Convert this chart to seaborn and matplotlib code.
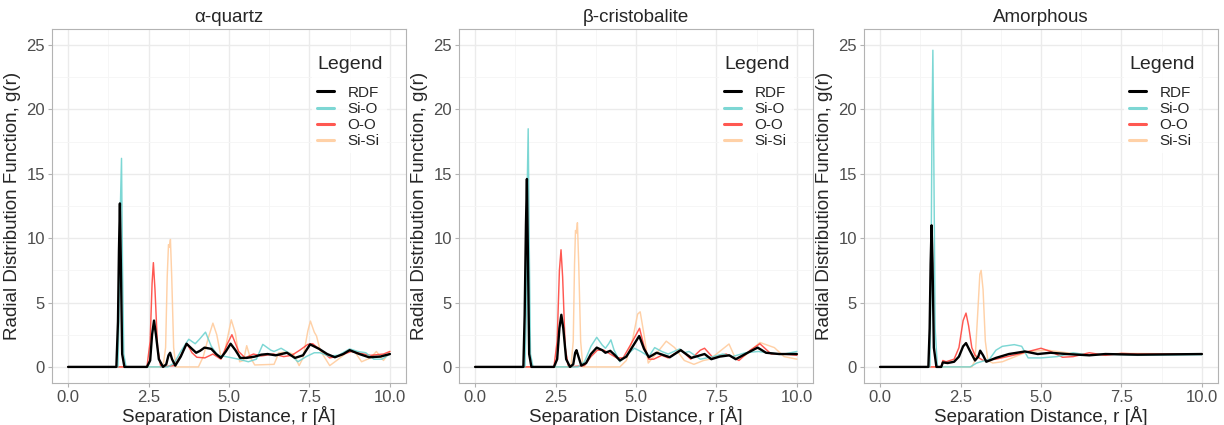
import numpy as np
import pandas as pd
import matplotlib
matplotlib.use("Agg")
import matplotlib.pyplot as plt
import seaborn as sns

# ---------------- data (r [Å], g(r)) ----------------
panel_titles = ["α-quartz", "β-cristobalite", "Amorphous"]
series_names = ["RDF", "Si-O", "O-O", "Si-Si"]

qz_rdf = [(0, 0), (1.50, 0), (1.55, 3.5), (1.58, 9), (1.61, 12.7), (1.64, 8), (1.68, 1), (1.75, 0),
          (2.45, 0), (2.55, 0.5), (2.61, 2.5), (2.67, 3.6), (2.73, 2.5), (2.82, 0.6), (2.95, 0),
          (3.05, 0.2), (3.12, 0.9), (3.17, 1.1), (3.23, 0.6), (3.33, 0.1), (3.5, 0.8), (3.68, 1.8),
          (3.85, 1.4), (3.98, 1.1), (4.1, 1.25), (4.24, 1.5), (4.45, 1.4), (4.6, 1.0), (4.75, 0.7),
          (4.9, 1.2), (5.05, 1.8), (5.2, 1.3), (5.35, 0.7), (5.55, 0.7), (5.8, 0.8), (6.0, 0.95),
          (6.2, 1.0), (6.45, 0.9), (6.8, 1.1), (7.05, 0.7), (7.3, 0.9), (7.52, 1.75), (7.8, 1.4),
          (8.05, 1.0), (8.29, 0.75), (8.55, 1.0), (8.75, 1.3), (9.05, 1.0), (9.35, 0.75), (9.7, 0.8),
          (10.0, 1.0)]
qz_sio = [(0, 0), (1.55, 0), (1.58, 3.5), (1.62, 12), (1.66, 16.2), (1.69, 8), (1.73, 1), (1.8, 0),
          (3.1, 0), (3.3, 0.3), (3.5, 1.2), (3.75, 2.15), (3.95, 1.8), (4.1, 2.2), (4.27, 2.7),
          (4.45, 1.6), (4.65, 0.9), (4.9, 0.8), (5.1, 0.7), (5.3, 0.6), (5.6, 0.4), (5.85, 0.6),
          (6.05, 1.75), (6.3, 1.3), (6.4, 1.2), (6.62, 1.45), (6.85, 1.1), (7.14, 0.4), (7.4, 0.8),
          (7.65, 1.1), (7.83, 1.1), (8.1, 0.85), (8.4, 0.9), (8.75, 1.4), (9.0, 1.2), (9.25, 1.1),
          (9.5, 0.6), (9.75, 0.6), (10.0, 1.0)]
qz_oo = [(0, 0), (2.45, 0), (2.55, 2.0), (2.61, 6.5), (2.65, 8.1), (2.7, 6), (2.78, 1.5), (2.88, 0),
         (3.3, 0.1), (3.5, 0.9), (3.7, 1.8), (3.85, 1.1), (4.0, 0.75), (4.25, 0.7), (4.5, 1.0),
         (4.75, 0.6), (4.95, 1.8), (5.09, 2.5), (5.3, 1.2), (5.5, 0.7), (5.76, 1.0), (6.0, 0.85),
         (6.38, 1.0), (6.7, 0.8), (6.95, 0.9), (7.2, 1.3), (7.45, 1.75), (7.6, 1.8), (7.85, 1.3),
         (8.13, 0.7), (8.4, 0.85), (8.8, 1.2), (9.1, 1.05), (9.4, 0.9), (9.8, 1.0), (10.0, 1.2)]
qz_sisi = [(0, 0), (2.95, 0), (3.03, 1.5), (3.08, 7), (3.12, 9.5), (3.15, 9.3), (3.18, 9.9), (3.22, 7),
           (3.28, 1.5), (3.35, 0), (4.05, 0), (4.2, 0.8), (4.35, 2.2), (4.5, 3.4), (4.62, 2.5),
           (4.75, 0.8), (4.85, 1.0), (5.07, 3.66), (5.2, 2.6), (5.33, 0.4), (5.45, 0.5), (5.55, 1.65),
           (5.65, 0.8), (5.8, 0.15), (6.4, 0.2), (6.55, 1.1), (6.8, 1.15), (7.0, 1.0), (7.18, 0.1),
           (7.3, 0.7), (7.45, 2.8), (7.53, 3.56), (7.65, 2.7), (7.72, 2.4), (7.83, 1.3), (8.13, 0.1),
           (8.4, 0.6), (8.7, 1.2), (8.9, 1.2), (9.12, 0.4), (9.4, 0.7), (9.58, 1.2), (9.8, 0.5),
           (10.0, 1.2)]

cr_rdf = [(0, 0), (1.5, 0), (1.54, 4), (1.58, 11), (1.61, 14.6), (1.64, 9), (1.68, 1), (1.75, 0),
          (2.45, 0), (2.55, 0.6), (2.62, 3.0), (2.68, 4.05), (2.74, 3.0), (2.83, 0.6), (2.95, 0),
          (3.05, 0.2), (3.11, 1.1), (3.15, 1.3), (3.2, 0.9), (3.3, 0.1), (3.45, 0.3), (3.6, 1.0),
          (3.78, 1.5), (3.95, 1.3), (4.05, 1.1), (4.2, 1.25), (4.35, 0.9), (4.5, 0.5), (4.7, 0.8),
          (4.9, 1.6), (5.1, 2.4), (5.25, 1.4), (5.4, 0.75), (5.64, 1.1), (6.05, 0.75), (6.39, 1.3),
          (6.72, 0.7), (7.13, 1.0), (7.34, 0.6), (7.6, 0.8), (7.9, 0.9), (8.1, 0.6), (8.47, 1.1),
          (8.78, 1.5), (9.04, 1.1), (9.45, 1.0), (10.0, 1.0)]
cr_sio = [(0, 0), (1.55, 0), (1.59, 4), (1.62, 14), (1.65, 18.5), (1.68, 10), (1.72, 1), (1.8, 0),
          (3.2, 0), (3.4, 0.4), (3.6, 1.6), (3.78, 2.3), (3.95, 1.7), (4.05, 1.45), (4.15, 1.8),
          (4.22, 2.1), (4.32, 1.3), (4.5, 0.4), (4.7, 0.9), (4.95, 1.45), (5.15, 1.2), (5.4, 0.8),
          (5.58, 1.5), (5.8, 1.2), (6.0, 1.0), (6.36, 1.4), (6.5, 1.1), (6.65, 1.2), (7.0, 0.6),
          (7.4, 0.8), (7.7, 1.0), (8.0, 0.8), (8.4, 1.1), (8.8, 1.2), (9.2, 1.05), (9.6, 1.0),
          (10.0, 1.2)]
cr_oo = [(0, 0), (2.45, 0), (2.55, 2.0), (2.62, 7.5), (2.67, 9.1), (2.72, 7), (2.8, 1.5), (2.9, 0),
         (3.4, 0.1), (3.6, 0.8), (3.8, 1.3), (4.0, 1.3), (4.2, 1.0), (4.4, 0.7), (4.6, 0.7),
         (4.85, 1.8), (5.11, 3.0), (5.25, 1.6), (5.4, 0.6), (5.55, 0.6), (5.8, 0.9), (6.0, 0.7),
         (6.39, 1.35), (6.7, 0.6), (7.0, 1.3), (7.13, 1.45), (7.4, 0.7), (7.8, 1.0), (8.2, 0.5),
         (8.55, 1.3), (8.85, 1.8), (9.2, 1.0), (9.6, 1.0), (10.0, 0.9)]
cr_sisi = [(0, 0), (2.98, 0), (3.05, 2), (3.09, 8), (3.12, 10.6), (3.15, 10.4), (3.18, 11.2),
           (3.22, 8), (3.28, 2), (3.35, 0), (4.5, 0), (4.7, 0.5), (4.9, 2.2), (5.05, 4.1),
           (5.13, 4.28), (5.25, 2.5), (5.38, 0.3), (5.55, 0.8), (5.75, 1.4), (5.94, 2.0), (6.2, 1.5),
           (6.5, 0.5), (6.8, 0.2), (7.1, 0.5), (7.3, 0.6), (7.6, 1.2), (7.89, 1.78), (8.1, 0.6),
           (8.4, 0.9), (8.85, 1.9), (9.3, 1.5), (9.6, 0.8), (10.0, 0.6)]

am_rdf = [(0, 0), (1.5, 0), (1.54, 3), (1.57, 8), (1.6, 11.0), (1.63, 8), (1.67, 1.5), (1.75, 0),
          (1.9, 0), (1.95, 0.35), (2.1, 0.3), (2.3, 0.4), (2.45, 0.8), (2.58, 1.6), (2.67, 1.85),
          (2.78, 1.3), (2.95, 0.5), (3.05, 0.8), (3.11, 1.26), (3.2, 0.9), (3.3, 0.4), (3.6, 0.7),
          (4.0, 1.0), (4.5, 1.2), (4.9, 1.0), (5.3, 1.1), (5.8, 1.0), (6.5, 0.9), (7.0, 1.0),
          (8.0, 0.95), (10.0, 1.0)]
am_sio = [(0, 0), (1.55, 0), (1.58, 6), (1.61, 18), (1.64, 24.6), (1.67, 16), (1.71, 3), (1.78, 0),
          (2.8, 0), (3.0, 0.3), (3.4, 0.6), (3.6, 1.3), (3.8, 1.6), (4.17, 1.73), (4.4, 1.6),
          (4.6, 0.7), (5.0, 0.7), (5.5, 0.8), (6.0, 1.1), (6.5, 0.9), (7.0, 1.0), (8.0, 0.9),
          (10.0, 0.95)]
am_oo = [(0, 0), (1.9, 0), (1.95, 0.5), (2.05, 0.4), (2.3, 0.6), (2.45, 1.5), (2.58, 3.6),
         (2.67, 4.18), (2.75, 3.2), (2.85, 1.5), (2.95, 0.9), (3.2, 0.5), (3.6, 0.6), (4.3, 1.0),
         (5.0, 1.45), (5.3, 1.2), (5.67, 0.75), (6.0, 0.8), (6.5, 1.1), (7.0, 0.9), (7.5, 1.05),
         (8.0, 1.0), (10.0, 1.0)]
am_sisi = [(0, 0), (2.85, 0), (2.95, 0.5), (3.03, 4), (3.1, 7.2), (3.14, 7.5), (3.2, 6), (3.27, 2),
           (3.35, 0.5), (3.5, 0.3), (3.8, 0.4), (4.2, 0.8), (4.6, 1.2), (5.2, 1.3), (5.8, 1.1),
           (6.5, 0.9), (7.5, 1.05), (10.0, 1.0)]

x_ticks = [0.0, 2.5, 5.0, 7.5, 10.0]
x_tick_labels = ["0.0", "2.5", "5.0", "7.5", "10.0"]
y_ticks = [0, 5, 10, 15, 20, 25]

# ---------------- styling ----------------
sns.set_theme(style="white")
plt.rcParams["font.family"] = ["Liberation Sans", "DejaVu Sans"]

colors = {"RDF": "#000000", "Si-O": "#6FD3D0", "O-O": "#FF3B33", "Si-Si": "#FFCC9E"}
widths = {"RDF": 1.7, "Si-O": 1.05, "O-O": 1.05, "Si-Si": 1.05}
alphas = {"RDF": 1.0, "Si-O": 0.9, "O-O": 0.85, "Si-Si": 0.9}

panels = [
    [qz_rdf, qz_sio, qz_oo, qz_sisi],
    [cr_rdf, cr_sio, cr_oo, cr_sisi],
    [am_rdf, am_sio, am_oo, am_sisi],
]

fig = plt.figure(figsize=(12.24, 4.25), dpi=100)
lefts = [52, 459, 864]
W, H = 1224, 425
pw = 354
for i, (title, series) in enumerate(zip(panel_titles, panels)):
    ax = fig.add_axes([lefts[i] / W, 1 - 383 / H, pw / W, (383 - 29) / H])
    frames = []
    for name, pts in zip(series_names, series):
        arr = np.array(pts, dtype=float)
        frames.append(pd.DataFrame({"r": arr[:, 0], "g": arr[:, 1], "series": name}))
    df = pd.concat(frames, ignore_index=True)
    # draw in reverse so RDF is on top
    for name in ["Si-Si", "O-O", "Si-O", "RDF"]:
        sub = df[df["series"] == name]
        sns.lineplot(data=sub, x="r", y="g", ax=ax, color=colors[name], lw=widths[name],
                     alpha=alphas[name], sort=False, estimator=None, legend=False)
    ax.set_xlim(-0.5, 10.5)
    ax.set_ylim(-1.25, 26.25)
    ax.set_xticks(x_ticks)
    ax.set_xticklabels(x_tick_labels)
    ax.set_yticks(y_ticks)
    ax.set_xticks([1.25, 3.75, 6.25, 8.75], minor=True)
    ax.set_yticks([2.5, 7.5, 12.5, 17.5, 22.5], minor=True)
    ax.grid(True, which="major", color="#EBEBEB", lw=1.0)
    ax.grid(True, which="minor", color="#F5F5F5", lw=0.6)
    ax.set_axisbelow(True)
    for s in ax.spines.values():
        s.set_color("#B3B3B3")
        s.set_linewidth(0.8)
    ax.tick_params(axis="both", which="major", length=3, width=0.8, color="#B3B3B3",
                   labelsize=12, labelcolor="#4D4D4D", pad=2, bottom=True, left=True)
    ax.tick_params(axis="both", which="minor", length=0)
    ax.set_title(title, fontsize=13.5, pad=5)
    ax.set_xlabel("Separation Distance, r [Å]", fontsize=13.5, labelpad=1)
    ax.set_ylabel("Radial Distribution Function, g(r)", fontsize=13.5, labelpad=4)

    handles = [plt.Line2D([], [], color=colors[n], lw=2.2, alpha=alphas[n]) for n in series_names]
    leg = ax.legend(handles, series_names, title="Legend", loc="upper right",
                    bbox_to_anchor=(0.955, 0.945), frameon=True, fontsize=11,
                    title_fontsize=14, handlelength=1.1, handletextpad=0.9,
                    labelspacing=0.15, borderpad=0.3, borderaxespad=0.2)
    leg.get_frame().set_facecolor("white")
    leg.get_frame().set_edgecolor("none")
    leg._legend_box.align = "left"
    leg._legend_box.sep = 9

fig.savefig("out.png", dpi=100)
